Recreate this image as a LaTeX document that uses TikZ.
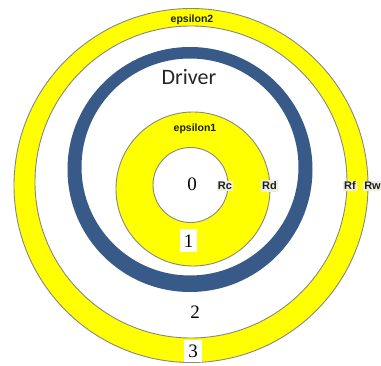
\documentclass[tikz,border=0pt]{standalone}
\usepackage{fontspec}
\setmainfont{Liberation Serif}
\setsansfont{Liberation Sans}
\newfontfamily\drvfont{Carlito}
\definecolor{ringyellow}{RGB}{255,255,0}
\definecolor{ringblue}{RGB}{56,90,136}
\definecolor{edgegray}{RGB}{135,135,135}
\definecolor{tagbg}{RGB}{238,237,226}
\definecolor{tagtext}{RGB}{30,30,30}
\tikzset{
  ringedge/.style={draw=edgegray, line width=0.9pt},
  ringlabel/.style={font=\sffamily\bfseries\fontsize{10.5}{12}\selectfont, text=tagtext, inner sep=0pt},
  radtag/.style={font=\sffamily\bfseries\fontsize{11}{12}\selectfont, text=tagtext, fill=tagbg, inner xsep=1.2pt, inner ysep=1.5pt},
  zonenum/.style={font=\fontsize{19}{21}\selectfont, inner sep=0pt},
  zonebox/.style={zonenum, fill=white, minimum width=17pt, minimum height=23pt}
}
\begin{document}
\begin{tikzpicture}[x=1pt,y=-1pt]
\useasboundingbox (0,0) rectangle (381,366);
\fill[white] (0,0) rectangle (381,366);
% outer yellow ring
\fill[ringyellow, even odd rule] (191,185.5) circle[radius=177pt] (191,182) circle[radius=156pt];
\draw[ringedge] (191,185.5) circle[radius=177pt];
\draw[ringedge] (191,182) circle[radius=156pt];
% blue driver ring
\fill[ringblue, even odd rule] (190,169.5) circle[radius=122.5pt] (190,167) circle[radius=108.5pt];
% inner yellow ring
\fill[ringyellow, even odd rule] (193,189) circle[radius=77pt] (190.5,185) circle[radius=37.5pt];
\draw[ringedge] (193,189) circle[radius=77pt];
\draw[ringedge] (190.5,185) circle[radius=37.5pt];
% labels
\node[ringlabel] (eps2) at (192,20) {epsilon2};
\node[ringlabel] (eps1) at (195,129) {epsilon1};
\node[font=\drvfont\fontsize{22}{24}\selectfont, text=black!85, inner sep=0pt] (drv) at (189,77) {Driver};
\node[zonenum] (z0) at (192,184) {0};
\node[radtag] (rc) at (225,186) {Rc};
\node[radtag] (rd) at (269.5,186) {Rd};
\node[radtag] (rf) at (350,186) {Rf};
\node[radtag] (rw) at (372.5,186) {Rw};
\node[zonebox] (z1) at (188.5,241) {1};
\node[zonenum] (z2) at (195,312) {2};
\node[zonebox, minimum width=18pt, minimum height=22pt] (z3) at (193,351) {3};
\end{tikzpicture}
\end{document}
